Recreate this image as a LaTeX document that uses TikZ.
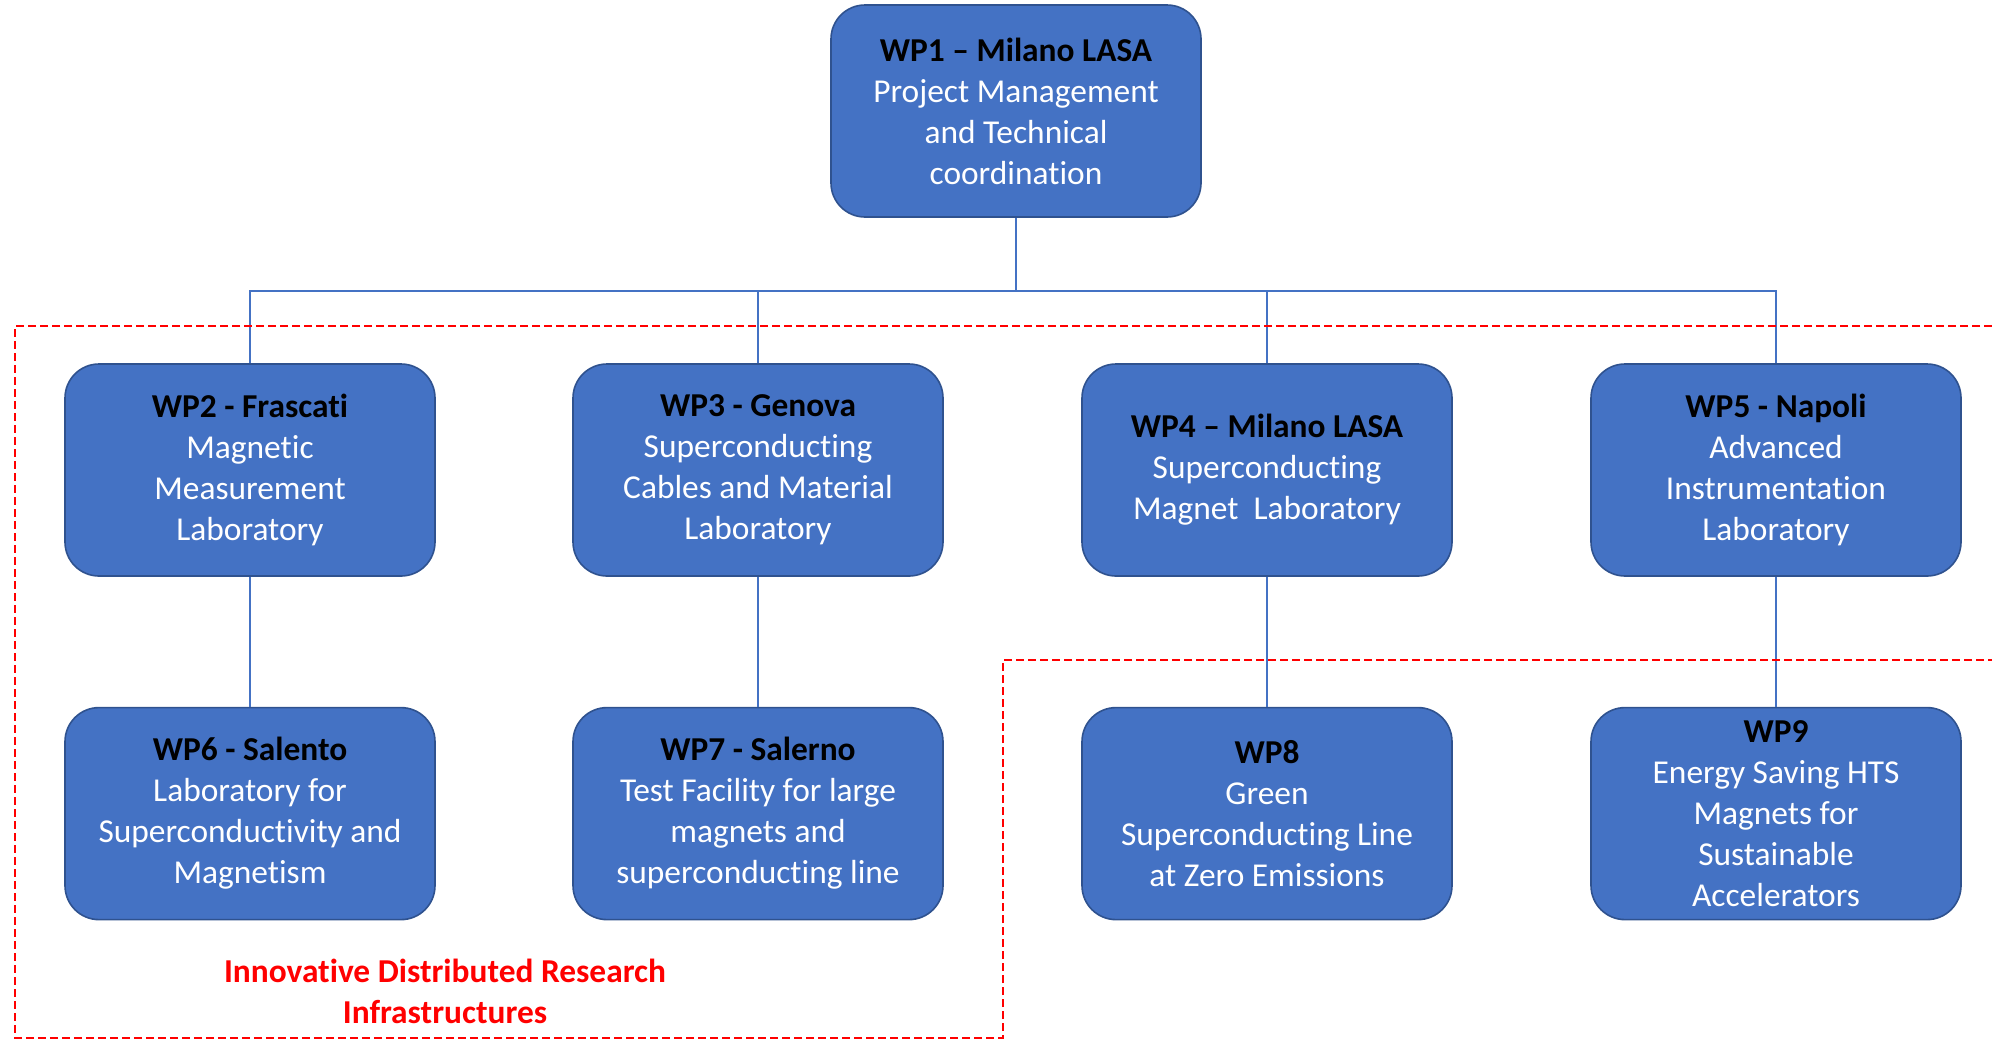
\documentclass[tikz,border=0pt]{standalone}
\usepackage{fontspec}
\setmainfont{Carlito}[Ligatures=NoCommon]
\usetikzlibrary{positioning}

\definecolor{wpblue}{HTML}{4472C4}
\definecolor{wpedge}{HTML}{2F528F}
\definecolor{linkblue}{HTML}{4472C4}

\begin{document}
\begin{tikzpicture}[
    x=0.5pt, y=-0.5pt,
    node distance=65pt,
    every node/.style={font=\fontsize{16.7}{20.5}\selectfont},
    wpbox/.style={rectangle, draw=wpedge, fill=wpblue, line width=0.8pt, rounded corners=17pt,
        align=center, text=white, inner sep=0pt, minimum width=185pt, minimum height=106pt},
    link/.style={draw=linkblue, line width=0.9pt},
    region/.style={draw=red, line width=0.75pt, dash pattern=on 4pt off 2pt},
    regionlabel/.style={text=red, align=center, font=\fontsize{16.7}{20.5}\selectfont\bfseries}
]
\useasboundingbox (0,0) rectangle (1992,1040);

% coordination
\node[wpbox] (wp1) at (1016,111) {\textcolor{black}{\bfseries WP1 – Milano LASA}\\Project Management\\and Technical\\coordination};

% laboratories
\node[wpbox] (wp2) at (250,470) {\textcolor{black}{\bfseries WP2 - Frascati}\\Magnetic\\Measurement\\Laboratory};
\node[wpbox] (wp3) at (758,470) {\textcolor{black}{\bfseries WP3 - Genova}\\Superconducting\\Cables and Material\\Laboratory};
\node[wpbox] (wp4) at (1267,470) {\textcolor{black}{\bfseries WP4 – Milano LASA}\\Superconducting\\Magnet~~Laboratory};
\node[wpbox] (wp5) at (1776,470) {\textcolor{black}{\bfseries WP5 - Napoli}\\Advanced\\Instrumentation\\Laboratory};

\node[wpbox, below=of wp2] (wp6) {\textcolor{black}{\bfseries WP6 - Salento}\\Laboratory for\\Superconductivity and\\Magnetism};
\node[wpbox, below=of wp3] (wp7) {\textcolor{black}{\bfseries WP7 - Salerno}\\Test Facility for large\\magnets and\\superconducting line};
\node[wpbox, below=of wp4] (wp8) {\textcolor{black}{\bfseries WP8}\\Green\\Superconducting Line\\at Zero Emissions};
\node[wpbox, below=of wp5] (wp9) {\textcolor{black}{\bfseries WP9}\\Energy Saving HTS\\Magnets for\\Sustainable\\Accelerators};

% tree lines
\coordinate (bus) at (1016,291);
\draw[link] (wp1) -- (bus);
\foreach \n in {wp2,wp3,wp4,wp5}
    \draw[link] (bus) -| (\n.north);
\foreach \a/\b in {wp2/wp6,wp3/wp7,wp4/wp8,wp5/wp9}
    \draw[link] (\a) -- (\b);

% research infrastructures area
\draw[region] (1992,326) -- (15,326) -- (15,1038) -- (1003,1038) -- (1003,660) -- (1992,660);
\node[regionlabel] (idri) at (445,991) {Innovative Distributed Research\\Infrastructures};

\end{tikzpicture}
\end{document}
